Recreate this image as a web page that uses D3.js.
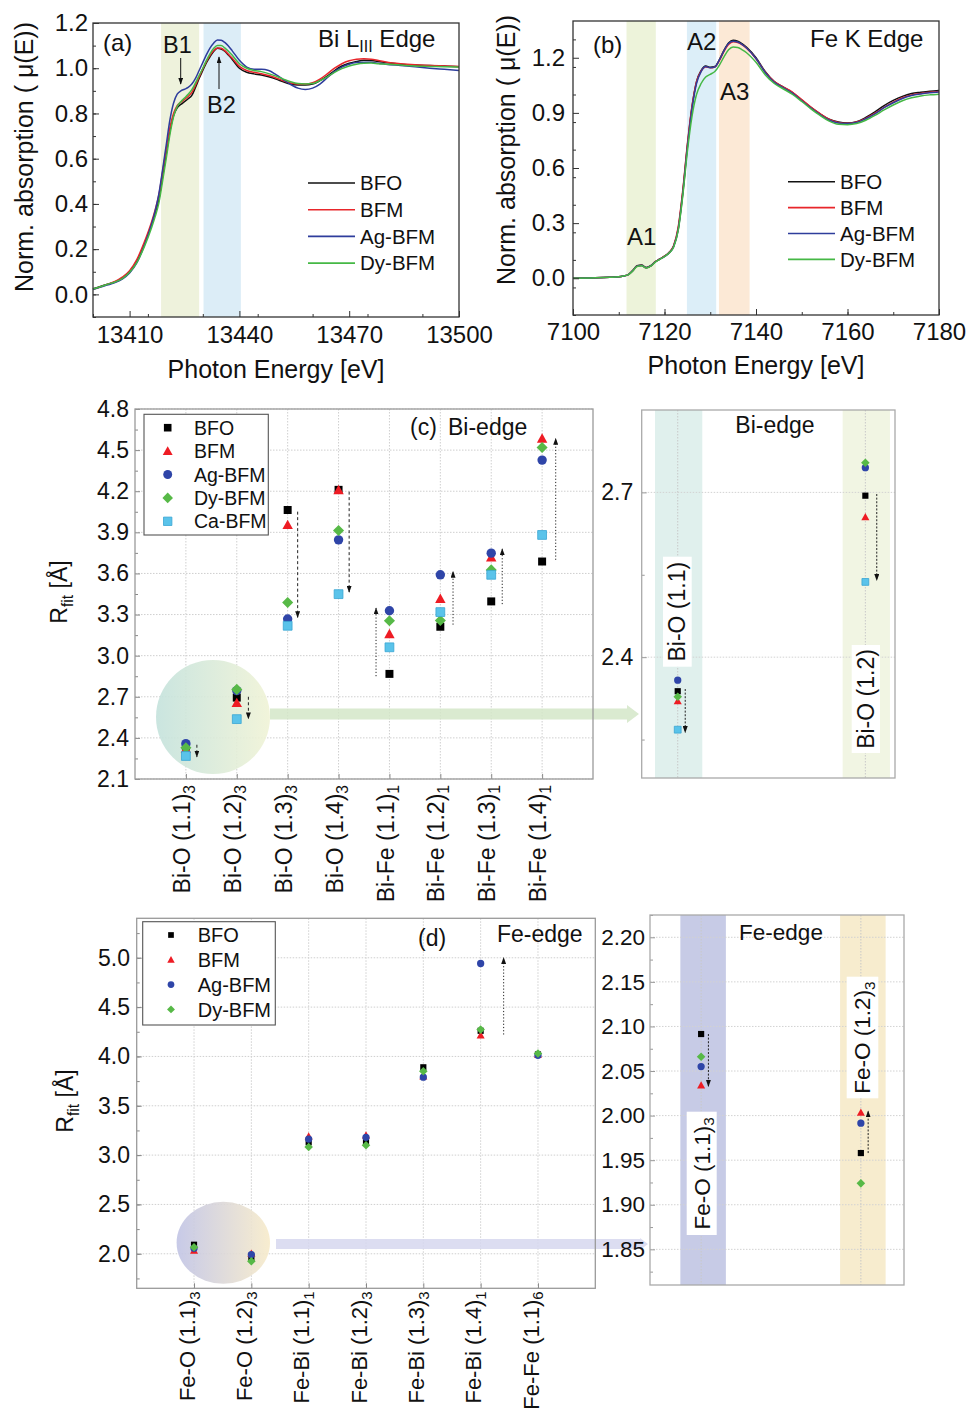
<!DOCTYPE html>
<html><head><meta charset="utf-8">
<script src="https://cdn.jsdelivr.net/npm/d3@7"></script>
<style>
body{margin:0;background:#fff}
svg{display:block}
text{font-family:"Liberation Sans",Arial,Helvetica,sans-serif;fill:#111}
</style>
</head><body>
<svg id="fig" width="968" height="1413"></svg>
<script>
// ---------------- DATA ----------------
const seriesNames = ["BFO","BFM","Ag-BFM","Dy-BFM"];
const seriesNamesC = ["BFO","BFM","Ag-BFM","Dy-BFM","Ca-BFM"];

// (a) Bi L-III edge XANES
const energyA = [13400,13402,13404,13406,13408,13410,13412,13414,13416,13417,13418,13419,13420,13421,13422,13423,13424,13425,13426,13427,13428,13429,13430,13431,13432,13433,13434,13435,13436,13437,13438,13440,13442,13444,13446,13448,13450,13452,13454,13456,13458,13460,13462,13464,13466,13468,13470,13472,13474,13476,13478,13480,13484,13488,13492,13496,13500];
const bfoA = [0.025,0.035,0.045,0.055,0.072,0.10,0.148,0.22,0.31, 0.36,0.42,0.52,0.62,0.72,0.79,0.825,0.84,0.852,0.865,0.88,0.915,0.955,0.99,1.025,1.052,1.075,1.088,1.085,1.075,1.058,1.04, 1.0,0.982,0.975,0.97,0.962,0.952,0.94,0.93,0.926,0.926,0.93,0.945,0.965,0.99,1.01,1.022,1.03,1.035,1.034,1.03,1.025, 1.018,1.014,1.012,1.01,1.006];
const bfmA = [0.022,0.033,0.045,0.057,0.076,0.105,0.155,0.23,0.32, 0.375,0.44,0.54,0.64,0.735,0.80,0.835,0.85,0.862,0.875,0.893,0.925,0.962,0.997,1.03,1.058,1.078,1.09,1.088,1.078,1.062,1.045, 1.008,0.99,0.982,0.976,0.968,0.957,0.945,0.935,0.93,0.93,0.936,0.952,0.975,1.0,1.02,1.033,1.04,1.042,1.04,1.034,1.028, 1.02,1.015,1.012,1.01,1.008];
const agA  = [0.022,0.032,0.042,0.052,0.068,0.095,0.14,0.215,0.31, 0.37,0.445,0.55,0.66,0.77,0.845,0.885,0.90,0.907,0.915,0.93,0.955,0.99,1.025,1.06,1.09,1.112,1.125,1.124,1.114,1.098,1.078, 1.035,1.005,0.995,0.995,0.99,0.972,0.95,0.928,0.912,0.906,0.912,0.93,0.958,0.985,1.005,1.018,1.025,1.027,1.026,1.022,1.018, 1.012,1.006,1.0,0.995,0.99];
const dyA  = [0.024,0.034,0.045,0.055,0.07,0.098,0.142,0.21,0.295, 0.345,0.405,0.50,0.60,0.705,0.785,0.83,0.852,0.868,0.885,0.905,0.935,0.968,1.0,1.035,1.065,1.088,1.10,1.10,1.09,1.075,1.058, 1.02,1.0,0.99,0.985,0.976,0.965,0.952,0.94,0.932,0.93,0.932,0.945,0.962,0.982,0.998,1.01,1.018,1.022,1.023,1.02,1.018, 1.014,1.01,1.008,1.006,1.005];
const bandsA = [[13418.6,13429.0],[13430.2,13440.4]];
const xTicksA = [13410,13440,13470,13500];
const yTicksA = [0,0.2,0.4,0.6,0.8,1.0,1.2];

// (b) Fe K edge XANES
const energyB = [7100,7104,7108,7110,7111,7112,7113,7114,7115,7116,7117,7118,7119,7120,7121,7122,7123,7124,7125,7126,7127,7128,7129,7130,7131,7132,7133,7134,7135,7136,7137,7138,7140,7142,7144,7146,7148,7150,7152,7154,7156,7158,7160,7162,7164,7166,7168,7170,7172,7174,7176,7178,7180];
const bfoB = [0.0,0.002,0.005, 0.008,0.012,0.018,0.04,0.068,0.072,0.058,0.068,0.09,0.105,0.12,0.14,0.175,0.27,0.47,0.72,0.93,1.07,1.13,1.155,1.148,1.152,1.19,1.24,1.28,1.295,1.29,1.275,1.255, 1.2,1.125,1.07,1.04,1.01,0.97,0.93,0.895,0.865,0.85,0.845,0.852,0.875,0.905,0.94,0.968,0.99,1.005,1.012,1.018,1.022];
const bfmB = [0.0,0.002,0.005, 0.008,0.012,0.018,0.04,0.066,0.07,0.057,0.067,0.09,0.105,0.12,0.14,0.178,0.28,0.48,0.73,0.935,1.07,1.128,1.15,1.145,1.15,1.185,1.235,1.272,1.287,1.283,1.27,1.25, 1.195,1.122,1.07,1.04,1.012,0.972,0.932,0.896,0.865,0.848,0.843,0.85,0.87,0.898,0.93,0.958,0.982,0.998,1.006,1.012,1.016];
const agB  = [0.0,0.002,0.005, 0.008,0.012,0.018,0.04,0.066,0.07,0.057,0.067,0.089,0.104,0.118,0.137,0.172,0.265,0.46,0.71,0.92,1.06,1.125,1.152,1.146,1.15,1.188,1.238,1.278,1.29,1.286,1.272,1.252, 1.196,1.12,1.066,1.036,1.006,0.966,0.926,0.89,0.86,0.845,0.842,0.848,0.868,0.895,0.928,0.955,0.978,0.994,1.003,1.009,1.013];
const dyB  = [0.0,0.002,0.005, 0.008,0.012,0.018,0.038,0.064,0.068,0.056,0.066,0.088,0.103,0.118,0.137,0.17,0.26,0.45,0.69,0.88,1.0,1.06,1.095,1.11,1.125,1.16,1.205,1.243,1.258,1.256,1.243,1.226, 1.175,1.108,1.06,1.03,1.0,0.962,0.922,0.886,0.855,0.838,0.836,0.842,0.86,0.886,0.916,0.943,0.966,0.982,0.992,0.998,1.002];
const bandsB = [[7111.7,7118.1],[7124.9,7131.3],[7131.9,7138.6]];
const xTicksB = [7100,7120,7140,7160,7180];
const yTicksB = [0,0.3,0.6,0.9,1.2];

// (c) Bi-edge fitted distances
const catsC = ["Bi-O (1.1)","Bi-O (1.2)","Bi-O (1.3)","Bi-O (1.4)","Bi-Fe (1.1)","Bi-Fe (1.2)","Bi-Fe (1.3)","Bi-Fe (1.4)"];
const subsC = ["3","3","3","3","1","1","1","1"];
const bfoC = [2.338,2.694,4.063,4.210,2.867,3.211,3.396,3.687];
const bfmC = [2.320,2.655,3.954,4.209,3.158,3.415,3.718,4.585];
const agC  = [2.358,2.745,3.267,3.845,3.328,3.590,3.748,4.427];
const dyC  = [2.328,2.754,3.388,3.913,3.255,3.257,3.626,4.519];
const caC  = [2.268,2.537,3.218,3.449,3.061,3.318,3.590,3.881];
const arrowFromC = [2.350,2.700,4.051,4.197,2.850,3.226,3.376,3.699];
const arrowToC   = [2.262,2.540,3.279,3.464,3.347,3.614,3.779,4.585];
const yTicksC = [2.1,2.4,2.7,3.0,3.3,3.6,3.9,4.2,4.5,4.8];
const insetCats = ["Bi-O (1.1)","Bi-O (1.2)"];
const insetArrowFromC = [2.342,2.697];
const insetArrowToC   = [2.263,2.540];
const yTicksCi = [2.4,2.7];

// (d) Fe-edge fitted distances
const catsD = ["Fe-O (1.1)","Fe-O (1.2)","Fe-Bi (1.1)","Fe-Bi (1.2)","Fe-Bi (1.3)","Fe-Bi (1.4)","Fe-Fe (1.1)"];
const subsD = ["3","3","1","3","3","1","6"];
const bfoD = [2.0915,1.958,3.13,3.14,3.89,4.26,4.02];
const bfmD = [2.034,2.0035,3.19,3.20,3.80,4.215,4.02];
const agD  = [2.055,1.9915,3.163,3.18,3.79,4.942,4.012];
const dyD  = [2.066,1.924,3.082,3.10,3.85,4.272,4.03];
const arrowFromD = [4.222];
const arrowToD   = [5.0];
const yTicksD = [2.0,2.5,3.0,3.5,4.0,4.5,5.0];
const insetCatsD = ["Fe-O (1.1)","Fe-O (1.2)"];
const insetArrowFromD = [2.0915,1.958];
const insetArrowToD   = [2.033,2.005];
const yTicksDi = [1.85,1.90,1.95,2.00,2.05,2.10,2.15,2.20];

// ---------------- STYLE ----------------
const lineColors = ["#111111","#e8262b","#2e3d9c","#45b845"];
const markColors = ["#000000","#ee1c24","#2f45a8","#57b947","#5ac3ea"];
const markKinds = ["square","triangle","circle","diamond","csquare"];
const FONT = '"Liberation Sans", Arial, Helvetica, sans-serif';

const svg = d3.select("#fig");
const defs = svg.append("defs");
defs.append("marker").attr("id","ah").attr("viewBox","0 0 10 10").attr("refX",9).attr("refY",5)
  .attr("markerWidth",7).attr("markerHeight",5).attr("markerUnits","userSpaceOnUse")
  .attr("preserveAspectRatio","none").attr("orient","auto")
  .append("path").attr("d","M0,0L10,5L0,10Z").attr("fill","#111");
function grad(id, c1, c2){
  const g = defs.append("linearGradient").attr("id",id).attr("x1","0%").attr("x2","100%").attr("y1","0%").attr("y2","0%");
  g.append("stop").attr("offset","0%").attr("stop-color",c1);
  g.append("stop").attr("offset","100%").attr("stop-color",c2);
}
grad("gC","#c4e2dc","#f0f3d6");
grad("gD","#c1c4e5","#f7ebca");

function styleAxis(g, fs, tickColor){
  g.attr("font-family",null).attr("font-size",null);
  g.select(".domain").remove();
  g.selectAll(".tick line").attr("stroke",tickColor).attr("stroke-width",1);
  g.selectAll(".tick text").attr("font-size",fs).attr("fill","#111").style("font-family",FONT);
  return g;
}
function rectFrame(x0,y0,x1,y1,stroke,sw){
  svg.append("rect").attr("x",x0).attr("y",y0).attr("width",x1-x0).attr("height",y1-y0)
    .attr("fill","none").attr("stroke",stroke).attr("stroke-width",sw);
}
function text(x,y,s,fs,anchor){
  return svg.append("text").attr("x",x).attr("y",y).attr("font-size",fs).attr("text-anchor",anchor||"start").text(s);
}
function markerPath(kind, s){
  if(kind==="square"||kind==="csquare"){ const h=(kind==="csquare"?s*1.05:s*0.95)/2; return `M${-h},${-h}H${h}V${h}H${-h}Z`; }
  if(kind==="triangle"){ const w=s*0.62, t=s*0.62; return `M0,${-t}L${w},${t*0.8}L${-w},${t*0.8}Z`; }
  if(kind==="diamond"){ const d=s*0.66; return `M0,${-d}L${d},0L0,${d}L${-d},0Z`; }
  return d3.symbol().type(d3.symbolCircle).size(Math.PI*Math.pow(s*0.56,2))();
}
function drawMark(g, kind, color, x, y, s){
  const p = g.append("path").attr("d",markerPath(kind,s)).attr("transform",`translate(${x},${y})`).attr("fill",color);
  if(kind==="csquare") p.attr("stroke","#3aa6d3").attr("stroke-width",0.8);
  return p;
}

// ---------------- LINE PANELS (a), (b) ----------------
function linePanel(p){
  const x = d3.scaleLinear(p.xd,[p.x0,p.x1]);
  const y = d3.scaleLinear(p.yd,[p.y1,p.y0]);
  const g = svg.append("g");
  p.bands.forEach((b,i)=>{
    g.append("rect").attr("x",x(b[0])).attr("y",p.y0).attr("width",x(b[1])-x(b[0])).attr("height",p.y1-p.y0).attr("fill",p.bandColors[i]);
  });
  const line = d3.line().x(d=>x(d[0])).y(d=>y(d[1])).curve(d3.curveMonotoneX);
  p.series.forEach((vals,i)=>{
    g.append("path").datum(p.energy.map((e,k)=>[e,vals[k]])).attr("d",line)
      .attr("fill","none").attr("stroke",lineColors[i]).attr("stroke-width",1.5);
  });
  styleAxis(svg.append("g").attr("transform",`translate(0,${p.y1})`)
    .call(d3.axisBottom(x).tickValues(p.xTicks).tickSize(-6).tickPadding(p.xPad).tickFormat(d3.format("d"))), 24, "#333");
  styleAxis(svg.append("g").attr("transform",`translate(0,${p.y1})`)
    .call(d3.axisBottom(x).tickValues(d3.range(p.xd[0],p.xd[1]+0.01,p.xMinor)).tickSize(-3).tickFormat("")), 24, "#333");
  styleAxis(svg.append("g").attr("transform",`translate(${p.x0},0)`)
    .call(d3.axisLeft(y).tickValues(p.yTicks).tickSize(-6).tickPadding(p.yPad).tickFormat(d3.format(".1f"))), 24, "#333");
  styleAxis(svg.append("g").attr("transform",`translate(${p.x0},0)`)
    .call(d3.axisLeft(y).tickValues(d3.range(p.yd[0],p.yd[1]+0.001,p.yMinor)).tickSize(-3).tickFormat("")), 24, "#333");
  rectFrame(p.x0,p.y0,p.x1,p.y1,"#333",1.3);
  seriesNames.forEach((n,i)=>{
    const yy = p.legY + i*p.legDy;
    svg.append("line").attr("x1",p.legX).attr("x2",p.legX+47).attr("y1",yy).attr("y2",yy).attr("stroke",lineColors[i]).attr("stroke-width",1.6);
    text(p.legX+52,yy,n,20.5).attr("dy","0.36em");
  });
  text((p.x0+p.x1)/2, p.xTitleY, "Photon Energy [eV]", 25, "middle");
  svg.append("text").attr("transform",`translate(${p.yTitleX},${p.yTitleY}) rotate(-90)`)
    .attr("text-anchor","middle").attr("font-size",25).text("Norm. absorption ( μ(E))");
  return {x,y};
}

linePanel({xd:[13400,13500], yd:[-0.1,1.2], x0:93, x1:459, y0:23, y1:317,
  energy:energyA, series:[bfoA,bfmA,agA,dyA], bands:bandsA, bandColors:["#eef2dc","#dcedf7"],
  xTicks:xTicksA, yTicks:yTicksA, xMinor:15, yMinor:0.1, xPad:9, yPad:5,
  legX:308, legY:183, legDy:26.7, xTitleY:378, yTitleX:33, yTitleY:157});
linePanel({xd:[7100,7180], yd:[-0.2,1.4], x0:573, x1:939, y0:21, y1:315,
  energy:energyB, series:[bfoB,bfmB,agB,dyB], bands:bandsB, bandColors:["#edf3da","#dceef8","#fce9d6"],
  xTicks:xTicksB, yTicks:yTicksB, xMinor:10, yMinor:0.15, xPad:8, yPad:8,
  legX:788, legY:181.7, legDy:25.9, xTitleY:374, yTitleX:515, yTitleY:150});

// annotations (a)
text(103,51,"(a)",24);
{ const t = text(318,47,"Bi L",24); t.append("tspan").attr("dy",5).attr("font-size",16).text("III"); t.append("tspan").attr("dy",-5).text(" Edge"); }
text(163,53,"B1",23.5);
text(207,113,"B2",23.5);
svg.append("line").attr("x1",180.7).attr("x2",180.7).attr("y1",58).attr("y2",84).attr("stroke","#111").attr("stroke-width",1).attr("marker-end","url(#ah)");
svg.append("line").attr("x1",219).attr("x2",219).attr("y1",89).attr("y2",57).attr("stroke","#111").attr("stroke-width",1).attr("marker-end","url(#ah)");
// annotations (b)
text(593,53,"(b)",24);
text(810,47,"Fe K Edge",24);
text(687,50,"A2",24);
text(720,100,"A3",24);
text(627,245,"A1",24);

// ---------------- SCATTER PANELS ----------------
function scatterMain(p){
  const x = d3.scaleLinear([0,p.cats.length+1],[p.x0,p.x1]);
  const y = d3.scaleLinear(p.yd,[p.y1,p.y0]);
  const g = svg.append("g");
  p.yTicks.forEach(v=> g.append("line").attr("x1",p.x0).attr("x2",p.x1).attr("y1",y(v)).attr("y2",y(v)).attr("stroke","#cfcfcf").attr("stroke-dasharray","1.5,1.5"));
  p.cats.forEach((c,i)=> g.append("line").attr("x1",x(i+1)).attr("x2",x(i+1)).attr("y1",p.y0).attr("y2",p.y1).attr("stroke","#cfcfcf").attr("stroke-dasharray","1.5,1.5"));
  g.append("ellipse").attr("cx",p.ell[0]).attr("cy",p.ell[1]).attr("rx",p.ell[2]).attr("ry",p.ell[3]).attr("fill",`url(#${p.grad})`).attr("opacity",0.9);
  const b = p.bar;
  svg.append("path").attr("d",`M${b.x0},${b.y-b.h}H${b.xh}V${b.y-b.hh}L${b.x1},${b.y}L${b.xh},${b.y+b.hh}V${b.y+b.h}H${b.x0}Z`).attr("fill",b.color).attr("opacity",0.85);
  styleAxis(svg.append("g").attr("transform",`translate(${p.x0},0)`)
    .call(d3.axisLeft(y).tickValues(p.yTicks).tickSize(-5).tickPadding(p.yPad).tickFormat(d3.format(".1f"))), p.fs, "#888");
  styleAxis(svg.append("g").attr("transform",`translate(${p.x0},0)`)
    .call(d3.axisLeft(y).tickValues(p.yMinorTicks).tickSize(-3).tickFormat("")), p.fs, "#888");
  styleAxis(svg.append("g").attr("transform",`translate(0,${p.y1})`)
    .call(d3.axisBottom(x).tickValues(d3.range(1,p.cats.length+1)).tickSize(-5).tickFormat("")), p.fs, "#888");
  rectFrame(p.x0,p.y0,p.x1,p.y1,"#9a9a9a",1.3);
  p.arrowFrom.forEach((v,k)=>{
    const ci = p.arrowCat[k];
    svg.append("line").attr("x1",x(ci+1)+p.arrowOff[k]).attr("x2",x(ci+1)+p.arrowOff[k])
      .attr("y1",y(v)).attr("y2",y(p.arrowTo[k])).attr("stroke","#222").attr("stroke-width",1)
      .attr("stroke-dasharray",p.arrowDash[k]).attr("marker-end","url(#ah)");
  });
  p.series.forEach((vals,si)=>{
    vals.forEach((v,i)=> drawMark(svg, markKinds[si], markColors[si], x(i+1), y(v), p.ms));
  });
  p.cats.forEach((c,i)=>{
    const t = svg.append("text").attr("transform",`translate(${x(i+1)+p.labDx},${p.y1+p.labDy}) rotate(-90)`)
      .attr("text-anchor","end").attr("font-size",p.labFs);
    t.append("tspan").attr("dy","0.35em").text(c);
    t.append("tspan").attr("dy","0.32em").attr("font-size",p.labFs*0.68).text(p.subs[i]);
  });
  const L = p.leg;
  svg.append("rect").attr("x",L.x0).attr("y",L.y0).attr("width",L.x1-L.x0).attr("height",L.y1-L.y0).attr("fill","#fff").attr("stroke","#555").attr("stroke-width",1.1);
  p.series.forEach((vals,si)=>{
    const yy = L.ry + si*L.dy;
    drawMark(svg, markKinds[si], markColors[si], L.mx, yy, L.ms);
    text(L.tx, yy, p.names[si], L.fs).attr("dy","0.36em");
  });
  const t = svg.append("text").attr("transform",`translate(${p.yTitle[0]},${p.yTitle[1]}) rotate(-90)`).attr("text-anchor","middle").attr("font-size",p.fs);
  t.append("tspan").text("R");
  t.append("tspan").attr("dy",6).attr("font-size",p.fs*0.68).text("fit");
  t.append("tspan").attr("dy",-6).text(" [Å]");
  return {x,y};
}

function scatterInset(p){
  const x = d3.scaleLinear(p.xd,[p.x0,p.x1]);
  const y = d3.scaleLinear(p.yd,[p.y1,p.y0]);
  svg.append("rect").attr("x",p.x0).attr("y",p.y0).attr("width",p.x1-p.x0).attr("height",p.y1-p.y0).attr("fill","#fff");
  p.bandColors.forEach((c,i)=>{
    svg.append("rect").attr("x",x(i+1+p.band[0])).attr("y",p.y0).attr("width",x(i+1+p.band[1])-x(i+1+p.band[0])).attr("height",p.y1-p.y0).attr("fill",c);
  });
  p.gridTicks.forEach(v=> svg.append("line").attr("x1",p.x0).attr("x2",p.x1).attr("y1",y(v)).attr("y2",y(v)).attr("stroke","#d2d2d2").attr("stroke-dasharray","1.5,1.5"));
  [1,2].forEach(c=> svg.append("line").attr("x1",x(c)).attr("x2",x(c)).attr("y1",p.y0).attr("y2",p.y1).attr("stroke","#c8c8c8").attr("stroke-dasharray","1.5,1.5"));
  styleAxis(svg.append("g").attr("transform",`translate(${p.x0},0)`)
    .call(d3.axisLeft(y).tickValues(p.yTicks).tickSize(-5).tickPadding(p.yPad).tickFormat(d3.format(p.fmt))), p.fs, "#999");
  styleAxis(svg.append("g").attr("transform",`translate(${p.x0},0)`)
    .call(d3.axisLeft(y).tickValues(p.yMinorTicks).tickSize(-3).tickFormat("")), p.fs, "#999");
  rectFrame(p.x0,p.y0,p.x1,p.y1,"#aaa",1.3);
  p.labels.forEach((L,i)=>{
    svg.append("rect").attr("x",L.box[0]).attr("y",L.box[1]).attr("width",L.box[2]-L.box[0]).attr("height",L.box[3]-L.box[1]).attr("fill","#fff");
    const t = svg.append("text").attr("transform",`translate(${(L.box[0]+L.box[2])/2},${(L.box[1]+L.box[3])/2}) rotate(-90)`)
      .attr("text-anchor","middle").attr("font-size",p.fs);
    t.append("tspan").attr("dy","0.35em").text(p.cats[i]);
    if(p.subs) t.append("tspan").attr("dy","0.32em").attr("font-size",p.fs*0.68).text(p.subs[i]);
  });
  p.arrowFrom.forEach((v,k)=>{
    svg.append("line").attr("x1",x(k+1)+p.arrowOff[k]).attr("x2",x(k+1)+p.arrowOff[k])
      .attr("y1",y(v)).attr("y2",y(p.arrowTo[k])).attr("stroke","#222").attr("stroke-width",1)
      .attr("stroke-dasharray","2,1.6").attr("marker-end","url(#ah)");
  });
  p.series.forEach((vals,si)=>{
    vals.forEach((v,i)=> drawMark(svg, markKinds[si], markColors[si], x(i+1), y(v), p.ms));
  });
  text(p.title[0],p.title[1],p.title[2],p.fs,"middle");
}

// (c) main
scatterMain({cats:catsC, subs:subsC, names:seriesNamesC, series:[bfoC,bfmC,agC,dyC,caC],
  x0:135, x1:593, y0:409, y1:779, yd:[2.1,4.8], yTicks:yTicksC,
  yMinorTicks:d3.range(2.25,4.8,0.3), yPad:6, fs:23, labFs:23, ms:8.4, labDx:-4, labDy:6,
  ell:[213,717,57,57], grad:"gC",
  bar:{x0:270,xh:627,x1:639,y:714,h:5.5,hh:9,color:"#d3e6c8"},
  arrowCat:[0,1,2,3,4,5,6,7], arrowFrom:arrowFromC, arrowTo:arrowToC,
  arrowOff:[11,11.6,10,10.6,-13.4,12.7,11,13.6],
  arrowDash:["3,2.5","3,2.5","3,2.5","3,2.5","1.2,2","1.2,2","1.2,2","1.2,2"],
  leg:{x0:144,y0:414.3,x1:268.3,y1:535,ry:427.7,dy:23.4,mx:167.7,tx:194,fs:19.5,ms:8},
  yTitle:[67,592]});
text(410,435,"(c)",23);
text(448,435,"Bi-edge",23);

// (c) inset
scatterInset({cats:insetCats, subs:null, series:[bfoC.slice(0,2),bfmC.slice(0,2),agC.slice(0,2),dyC.slice(0,2),caC.slice(0,2)],
  xd:[0.808,2.158], x0:641.7, x1:895, yd:[2.18,2.85], y0:410, y1:778,
  band:[-0.121,0.131], bandColors:["#e0f0ed","#f1f5e3"],
  gridTicks:yTicksCi, yTicks:yTicksCi, yMinorTicks:[2.25,2.55], yPad:8.5, fmt:".1f", fs:23, ms:6.5,
  labels:[{box:[663,556.7,691.7,666.7]},{box:[851.7,645,880,753]}],
  arrowFrom:insetArrowFromC, arrowTo:insetArrowToC, arrowOff:[7.5,11.4],
  title:[775,433,"Bi-edge"]});

// (d) main
scatterMain({cats:catsD, subs:subsD, names:seriesNames, series:[bfoD,bfmD,agD,dyD],
  x0:136.7, x1:595.3, y0:918.3, y1:1288.3, yd:[1.65,5.4], yTicks:yTicksD,
  yMinorTicks:d3.range(1.75,5.4,0.25), yPad:6.7, fs:23, labFs:22, ms:6.5, labDx:-7, labDy:3,
  ell:[223.3,1242.8,46.7,41], grad:"gD",
  bar:{x0:276,xh:640,x1:648,y:1244,h:5,hh:6,color:"#d6d7ef"},
  arrowCat:[5], arrowFrom:arrowFromD, arrowTo:arrowToD, arrowOff:[23],
  arrowDash:["1.2,2"],
  leg:{x0:142.7,y0:921.7,x1:275.3,y1:1025,ry:935,dy:24.8,mx:171,tx:197.7,fs:20,ms:6},
  yTitle:[73,1101]});
text(418,946,"(d)",23);
text(497,942,"Fe-edge",23);

// (d) inset
scatterInset({cats:insetCatsD, subs:["3","3"], series:[bfoD.slice(0,2),bfmD.slice(0,2),agD.slice(0,2),dyD.slice(0,2)],
  xd:[0.68,2.27], x0:650, x1:904, yd:[1.81,2.225], y0:915, y1:1285,
  band:[-0.13,0.155], bandColors:["#c7cbe6","#f7ecce"],
  gridTicks:yTicksDi, yTicks:yTicksDi, yMinorTicks:d3.range(1.825,2.225,0.05), yPad:5, fmt:".2f", fs:22.5, ms:6.5,
  labels:[{box:[686.7,1111.7,716.7,1235]},{box:[846.7,976.7,878.3,1098.3]}],
  arrowFrom:insetArrowFromD, arrowTo:insetArrowToD, arrowOff:[7.3,7.3],
  title:[781,940,"Fe-edge"]});
</script>
</body></html>
